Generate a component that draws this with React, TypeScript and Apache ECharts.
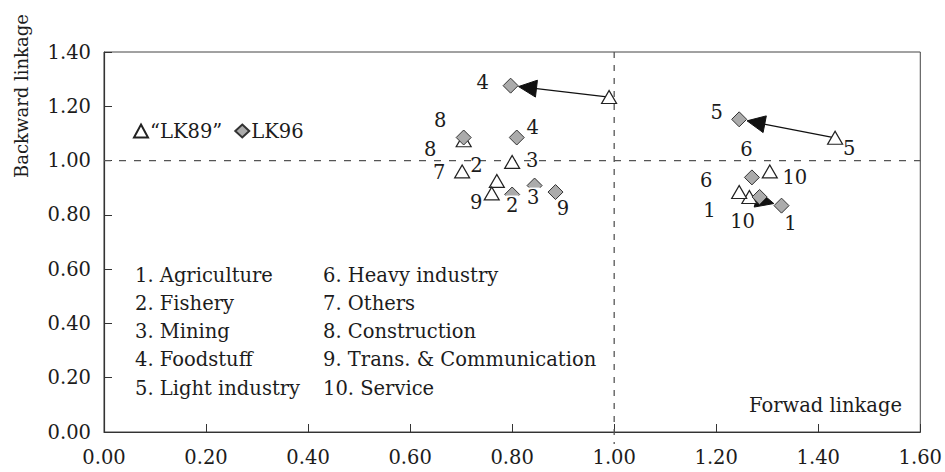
import React, { useEffect, useRef } from 'react';
import * as echarts from 'echarts';

// ---- data ----
const sectorNames = [
  '1. Agriculture',
  '2. Fishery',
  '3. Mining',
  '4. Foodstuff',
  '5. Light industry',
  '6. Heavy industry',
  '7. Others',
  '8. Construction',
  '9. Trans. & Communication',
  '10. Service',
];

const seriesNames = ['\u201cLK89\u201d', 'LK96'];

// LK89 (triangles), by sector 1..10
const lk89X = [1.265, 0.77, 0.8, 0.99, 1.433, 1.245, 0.702, 0.705, 0.76, 1.305];
const lk89Y = [0.866, 0.925, 0.995, 1.234, 1.084, 0.884, 0.96, 1.075, 0.879, 0.96];
const lk89Labels = ['1', '2', '3', '', '5', '6', '7', '8', '9', '10'];

// LK96 (diamonds)
const lk96X = [1.328, 0.8, 0.844, 0.797, 1.245, 1.27, 0.809, 0.705, 0.885, 1.285];
const lk96Y = [0.834, 0.875, 0.908, 1.276, 1.152, 0.938, 1.085, 1.085, 0.884, 0.866];
const lk96Labels = ['1', '2', '3', '4', '5', '6', '4', '8', '9', '10'];

// arrows: index of sector moving from LK89 to LK96
const arrowIdx = [3, 4, 0];

// reference lines
const refX = 1.0;
const refY = 1.0;

// axis settings
const xMin = 0, xMax = 1.6, xStep = 0.2;
const yMin = 0, yMax = 1.4, yStep = 0.2;

// ---- styles (label offsets in px, relative to marker) ----
const lk89Offsets = [
  [-40, 14], [-20.5, -15.5], [20, -1.5], [0, 0], [14, 10.5],
  [-33, -12], [-23, 1], [-33.5, 9.5], [-15.5, 9], [25, 6.5],
];
const lk96Offsets = [
  [9, 17.5], [0, 11], [-1.5, 12], [-28, -3], [-22.5, -7],
  [-5.5, -27.5], [16, -10], [-23.5, -17], [7.5, 16.5], [-17, 25],
];
const lk96LabelBg = [1, 2];

const FONT = '"DejaVu Serif", serif';
const FS = 19.5;
const TXT = '#1c1c1c';

export default function App() {
  const ref = useRef<HTMLDivElement>(null);

  useEffect(() => {
    document.body.style.margin = '0';
    const chart = echarts.init(ref.current!, undefined, { renderer: 'svg' });

    const lk89Data = lk89X.map((x, i) => ({
      value: [x, lk89Y[i]],
      label: {
        show: lk89Labels[i] !== '',
        formatter: lk89Labels[i],
        offset: lk89Offsets[i],
      },
    }));
    const lk96Data = lk96X.map((x, i) => ({
      value: [x, lk96Y[i]],
      label: {
        show: lk96Labels[i] !== '',
        formatter: lk96Labels[i],
        offset: lk96Offsets[i],
        ...(lk96LabelBg.includes(i) ? { backgroundColor: '#fff', padding: [0, 1] } : {}),
      },
    }));
    const arrowData = arrowIdx.map((i) => [lk89X[i], lk89Y[i], lk96X[i], lk96Y[i]]);

    const labelCommon = {
      show: true,
      position: 'inside',
      fontFamily: FONT,
      fontSize: FS,
      color: TXT,
      align: 'center',
      verticalAlign: 'middle',
    };

    const textStyle = (text: string, align: string, size = FS) => ({
      text,
      fontFamily: FONT,
      fontSize: size,
      fill: TXT,
      align,
      verticalAlign: 'middle',
    });

    const option: any = {
      animation: false,
      textStyle: { fontFamily: FONT },
      grid: {
        left: 104,
        right: 24,
        top: 52,
        bottom: 40,
        show: true,
        borderColor: '#444',
        borderWidth: 1,
        backgroundColor: 'transparent',
      },
      legend: {
        data: seriesNames,
        left: 133,
        top: 121,
        padding: 0,
        itemWidth: 14,
        itemHeight: 13,
        itemGap: 12,
        selectedMode: false,
        textStyle: { fontFamily: FONT, fontSize: FS, color: TXT, padding: [0, 0, 0, -3] },
      },
      xAxis: {
        type: 'value',
        min: xMin,
        max: xMax,
        interval: xStep,
        splitLine: { show: false },
        axisLine: { show: true, lineStyle: { color: '#333', width: 1.2 } },
        axisTick: { show: true, inside: true, length: 8, lineStyle: { color: '#333' } },
        axisLabel: {
          formatter: (v: number) => v.toFixed(2),
          fontFamily: FONT,
          fontSize: FS,
          color: TXT,
          margin: 15,
        },
      },
      yAxis: {
        type: 'value',
        min: yMin,
        max: yMax,
        interval: yStep,
        splitLine: { show: false },
        axisLine: { show: true, lineStyle: { color: '#333', width: 1.2 } },
        axisTick: { show: true, inside: true, length: 8, lineStyle: { color: '#333' } },
        axisLabel: {
          formatter: (v: number) => v.toFixed(2),
          fontFamily: FONT,
          fontSize: FS,
          color: TXT,
          margin: 13,
        },
      },
      graphic: [
        {
          type: 'text',
          x: 21,
          y: 96,
          rotation: Math.PI / 2,
          style: textStyle('Backward linkage', 'center', 18),
        },
        {
          type: 'text',
          x: 902,
          y: 405,
          style: textStyle('Forwad linkage', 'right'),
        },
        ...sectorNames.map((name, i) => ({
          type: 'text',
          x: i < 5 ? 135 : 323,
          y: 275 + (i % 5) * 28.3,
          style: textStyle(name, 'left'),
        })),
      ],
      series: [
        {
          type: 'custom',
          name: 'ref',
          data: [[refX, refY]],
          z: 1,
          silent: true,
          renderItem: (params: any, api: any) => {
            const c = api.coord([api.value(0), api.value(1)]);
            const top = api.coord([refX, yMax]);
            const bot = api.coord([refX, yMin]);
            const l = api.coord([xMin, refY]);
            const r = api.coord([xMax, refY]);
            const st = { stroke: '#555', lineWidth: 1.3, lineDash: [7, 8] };
            return {
              type: 'group',
              children: [
                { type: 'line', shape: { x1: l[0], y1: c[1], x2: r[0], y2: c[1] }, style: st },
                { type: 'line', shape: { x1: c[0], y1: top[1], x2: c[0], y2: bot[1] + 12 }, style: { ...st, lineDash: [6, 7] } },
              ],
            };
          },
        },
        {
          type: 'custom',
          name: 'arrows',
          data: arrowData,
          z: 2,
          silent: true,
          renderItem: (params: any, api: any) => {
            const p1 = api.coord([api.value(0), api.value(1)]);
            const p2 = api.coord([api.value(2), api.value(3)]);
            const dx = p2[0] - p1[0];
            const dy = p2[1] - p1[1];
            const len = Math.sqrt(dx * dx + dy * dy);
            const ux = dx / len, uy = dy / len;
            const nx = -uy, ny = ux;
            const gap = 8, headLen = 18, hw = 8.5;
            const tip = [p2[0] - ux * gap, p2[1] - uy * gap];
            const base = [tip[0] - ux * headLen, tip[1] - uy * headLen];
            return {
              type: 'group',
              children: [
                { type: 'line', shape: { x1: p1[0], y1: p1[1], x2: base[0] + ux * 2, y2: base[1] + uy * 2 }, style: { stroke: '#111', lineWidth: 1.3 } },
                {
                  type: 'polygon',
                  shape: { points: [tip, [base[0] + nx * hw, base[1] + ny * hw], [base[0] - nx * hw, base[1] - ny * hw]] },
                  style: { fill: '#111', stroke: '#111' },
                },
              ],
            };
          },
        },
        {
          type: 'scatter',
          name: seriesNames[0],
          symbol: 'triangle',
          symbolSize: [15, 13],
          z: 3,
          itemStyle: { color: '#fff', borderColor: '#222', borderWidth: 1.2, opacity: 1 },
          label: labelCommon,
          data: lk89Data,
        },
        {
          type: 'scatter',
          name: seriesNames[1],
          symbol: 'diamond',
          symbolSize: 15,
          z: 4,
          itemStyle: { color: '#ababab', borderColor: '#333', borderWidth: 1, opacity: 1 },
          label: labelCommon,
          data: lk96Data,
        },
      ],
    };

    chart.setOption(option);
    return () => chart.dispose();
  }, []);

  return <div ref={ref} style={{ width: 945, height: 472 }} />;
}
